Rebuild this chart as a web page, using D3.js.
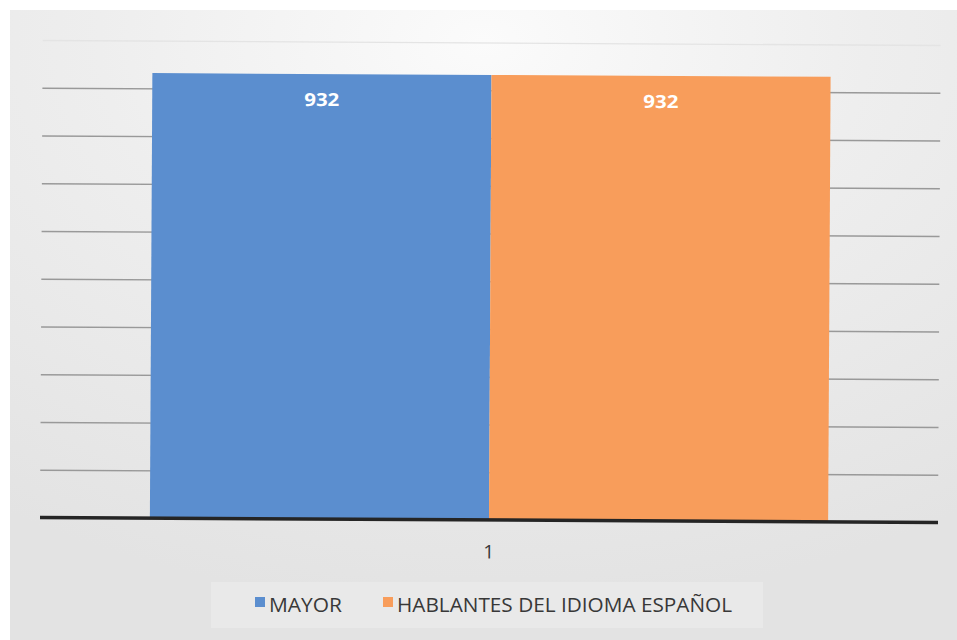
<!DOCTYPE html>
<html>
<head>
<meta charset="utf-8">
<script src="https://cdn.jsdelivr.net/npm/d3@7"></script>
<style>
  html, body { margin: 0; padding: 0; background: #ffffff; }
  svg { display: block; }
</style>
</head>
<body>
<svg id="chart" width="957" height="640"></svg>
<script>
// ---- data ----
const categories = ["1"];
const seriesNames = ["MAYOR", "HABLANTES DEL IDIOMA ESPAÑOL"];
const seriesValues = [[932], [932]];
const seriesColors = ["#5b8ecf", "#f89d5b"];
const yTicks = [0, 100, 200, 300, 400, 500, 600, 700, 800, 900, 1000];

const W = 957, H = 640;
const margin = { left: 40, right: 19, top: 42, bottom: 120 };
const svg = d3.select("#chart");

const defs = svg.append("defs");
const bg = defs.append("radialGradient").attr("id", "bg")
  .attr("cx", "50%").attr("cy", "5%").attr("r", "90%");
bg.append("stop").attr("offset", "0%").attr("stop-color", "#fbfbfb");
bg.append("stop").attr("offset", "45%").attr("stop-color", "#eeeeee");
bg.append("stop").attr("offset", "100%").attr("stop-color", "#e3e3e3");

svg.append("rect").attr("x", 10).attr("y", 10).attr("width", W - 10).attr("height", H - 10)
  .attr("fill", "url(#bg)");

const plotLeft = margin.left, plotRight = W - margin.right;
const baseY = 520, topY = baseY - 477.5;

const g = svg.append("g").attr("transform", `rotate(0.32, ${(plotLeft + plotRight) / 2}, ${baseY})`);

const x0 = d3.scaleBand().domain(categories).range([plotLeft, plotRight]).paddingInner(0).paddingOuter(0.162);
const x1 = d3.scaleBand().domain(seriesNames).range([0, x0.bandwidth()]).padding(0);
const y = d3.scaleLinear().domain([0, 1000]).range([baseY, topY]);

// gridlines
const yAxis = d3.axisLeft(y).tickValues(yTicks.slice(1)).tickSize(-(plotRight - plotLeft)).tickFormat("");
const ga = g.append("g").attr("transform", `translate(${plotLeft},0)`).call(yAxis);
ga.select(".domain").remove();
ga.selectAll(".tick line").attr("stroke", d => d === 1000 ? "#e4e4e4" : "#999999").attr("stroke-width", 1.3);

// bars
const groups = g.selectAll(".cat").data(categories).enter().append("g")
  .attr("transform", d => `translate(${x0(d)},0)`);
seriesNames.forEach((s, si) => {
  const vals = seriesValues[si];
  groups.append("rect")
    .attr("x", x1(s))
    .attr("y", (d, i) => y(vals[i]))
    .attr("width", x1.bandwidth())
    .attr("height", (d, i) => y(0) - y(vals[i]))
    .attr("fill", seriesColors[si]);
  groups.append("text")
    .attr("x", x1(s) + x1.bandwidth() / 2)
    .attr("y", (d, i) => y(vals[i]) + 32)
    .attr("text-anchor", "middle")
    .attr("font-family", "'Open Sans', 'Liberation Sans', sans-serif")
    .attr("font-weight", "bold")
    .attr("font-size", 18)
    .attr("fill", "#ffffff")
    .attr("textLength", 35).attr("lengthAdjust", "spacingAndGlyphs")
    .text((d, i) => vals[i]);
});

// x axis
const xAxis = d3.axisBottom(x0).tickSize(0).tickPadding(25);
const gx = g.append("g").attr("transform", `translate(0,${baseY})`).call(xAxis);
gx.select(".domain").remove();
gx.selectAll("text").attr("font-family", "'Open Sans', 'Liberation Sans', sans-serif")
  .attr("font-size", 19).attr("fill", "#383838");
g.append("line").attr("x1", plotLeft).attr("x2", plotRight).attr("y1", baseY).attr("y2", baseY)
  .attr("stroke", "#252525").attr("stroke-width", 3.5);

// legend
const legendItems = [
  { name: seriesNames[0], color: seriesColors[0], sx: 255, tx: 269, w: 73 },
  { name: seriesNames[1], color: seriesColors[1], sx: 383, tx: 397, w: 335 }
];
const lg = svg.append("g");
lg.append("rect").attr("x", 211).attr("y", 582).attr("width", 552).attr("height", 46)
  .attr("fill", "#f4f4f4").attr("opacity", 0.35);
legendItems.forEach(it => {
  lg.append("rect").attr("x", it.sx).attr("y", 597).attr("width", 10).attr("height", 10).attr("fill", it.color);
  lg.append("text").attr("x", it.tx).attr("y", 612)
    .attr("font-family", "'Open Sans', 'Liberation Sans', sans-serif")
    .attr("font-size", 20).attr("fill", "#383838")
    .attr("textLength", it.w).attr("lengthAdjust", "spacingAndGlyphs")
    .text(it.name);
});
</script>
</body>
</html>
